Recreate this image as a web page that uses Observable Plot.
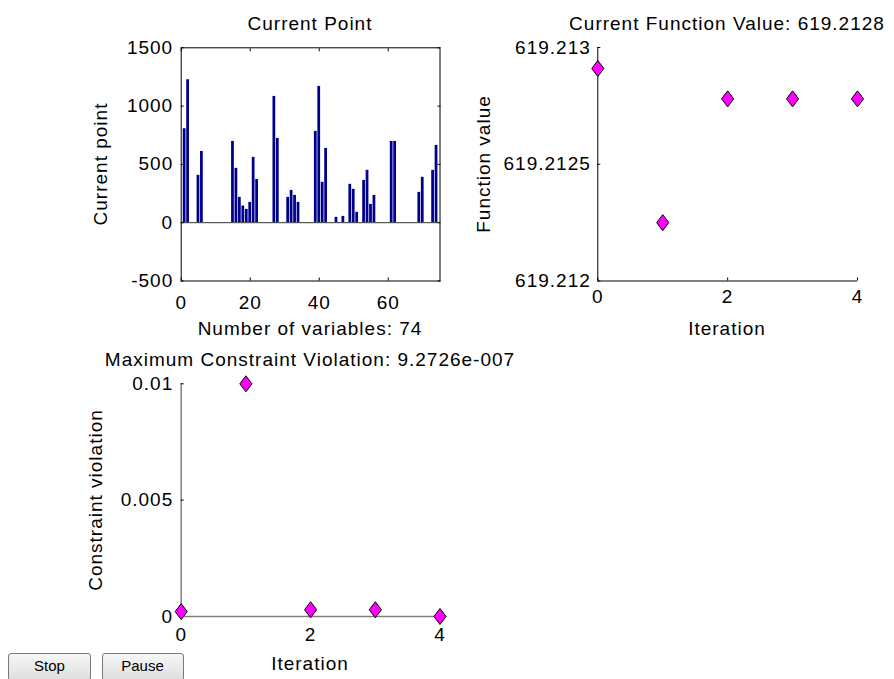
<!DOCTYPE html>
<html>
<head>
<meta charset="utf-8">
<script src="https://cdn.jsdelivr.net/npm/d3@7"></script>
<script src="https://cdn.jsdelivr.net/npm/@observablehq/plot@0.6"></script>
<style>
  body { margin: 0; background: #fff; }
  #fig { position: relative; width: 894px; height: 679px; overflow: hidden; background: #fff;
         font-family: "Liberation Sans", Arial, sans-serif; }
  #fig svg { position: absolute; left: 0; top: 0; }
  .t { position: absolute; font-size: 19px; line-height: 19px; letter-spacing: 1px; white-space: nowrap; color: #000; }
  .btn { position: absolute; box-sizing: border-box; border: 1px solid #7a7a7a; border-radius: 3px;
         background: linear-gradient(#f7f7f7, #dedede); font-size: 15px; line-height: 23px; text-align: center; color: #000; }
</style>
</head>
<body>
<div id="fig"></div>
<script>
// ---------- data ----------
// Current point: value of each of the 74 variables (variable index = position + 1)
const barValues = [806,1226,0,0,406,611,0,0,0,0,0,0,0,0,697,466,217,143,114,174,560,371,0,0,0,0,1083,723,0,0,
                   217,277,234,174,0,0,0,0,783,1169,346,637,0,0,46,0,54,0,329,286,89,0,363,449,157,234,0,0,0,0,
                   697,697,0,0,0,0,0,0,260,389,0,0,449,663];
const barXDomain = [0, 75];
const barXTicks = [0, 20, 40, 60];
const barYDomain = [-500, 1500];
const barYTicks = [-500, 0, 500, 1000, 1500];

// Function value per iteration
const iterations = [0, 1, 2, 3, 4];
const fvalValues = [619.21291, 619.21225, 619.21278, 619.21278, 619.21278];
const iterDomain = [0, 4];
const iterTicks = [0, 2, 4];
const fvalDomain = [619.212, 619.213];
const fvalTicks = [619.212, 619.2125, 619.213];
const fvalTickLabels = ["619.212", "619.2125", "619.213"];

// Constraint violation per iteration
const cvValues = [0.00021, 0.01, 0.00029, 0.00029, 9.2726e-7];
const cvDomain = [0, 0.01];
const cvTicks = [0, 0.005, 0.01];
const cvTickLabels = ["0", "0.005", "0.01"];

// ---------- layout ----------
const W = 894, H = 679;
const fig = document.getElementById("fig");
const baseStyle = {
  background: "none", overflow: "visible", color: "#000",
  fontFamily: '"Liberation Sans", Arial, sans-serif', fontSize: "19px", letterSpacing: "1px"
};
const plain = d => String(d);

const diamond = {
  draw(ctx, size) {
    const r = Math.sqrt(size / Math.PI), w = r * 0.76;
    ctx.moveTo(0, -r); ctx.lineTo(w, 0); ctx.lineTo(0, r); ctx.lineTo(-w, 0); ctx.closePath();
  }
};

// Current Point (bar chart)
const bar = Plot.plot({
  width: W, height: H,
  marginLeft: 180.7, marginRight: W - 439.5, marginTop: 47.3, marginBottom: H - 280.5,
  style: baseStyle,
  x: {domain: barXDomain},
  y: {domain: barYDomain},
  marks: [
    Plot.rect(barValues, {x1: (d, i) => i + 1 - 0.4, x2: (d, i) => i + 1 + 0.4, y1: 0, y2: d => d, fill: "#00008f"}),
    Plot.ruleY([0], {stroke: "#333"}),
    Plot.frame({stroke: "#000"}),
    Plot.axisX({ticks: barXTicks, anchor: "bottom", tickSize: -3, tickPadding: 17, tickFormat: plain, label: null}),
    Plot.axisX({ticks: barXTicks, anchor: "top", tickSize: -3, tickFormat: () => "", label: null}),
    Plot.axisY({ticks: barYTicks, anchor: "left", tickSize: -3, tickPadding: 11, tickFormat: plain, label: null}),
    Plot.axisY({ticks: barYTicks, anchor: "right", tickSize: -3, tickFormat: () => "", label: null})
  ]
});
fig.appendChild(bar);

// Current Function Value
const fval = Plot.plot({
  width: W, height: H,
  marginLeft: 597.3, marginRight: W - 857, marginTop: 47, marginBottom: H - 280.5,
  style: baseStyle,
  x: {domain: iterDomain},
  y: {domain: fvalDomain},
  marks: [
    Plot.ruleX([iterDomain[0]], {stroke: "#000"}),
    Plot.ruleY([fvalDomain[0]], {stroke: "#000"}),
    Plot.axisX({ticks: iterTicks, anchor: "bottom", tickSize: -3, tickPadding: 11.5, tickFormat: plain, label: null}),
    Plot.axisY({ticks: fvalTicks, anchor: "left", tickSize: -3, tickPadding: 10,
                tickFormat: d => fvalTickLabels[fvalTicks.indexOf(d)], label: null}),
    Plot.dot(iterations, {x: d => d, y: (d, i) => fvalValues[i], symbol: diamond, r: 8,
                          fill: "#ff00ff", stroke: "#000", strokeWidth: 1})
  ]
});
fig.appendChild(fval);

// Maximum Constraint Violation
const cv = Plot.plot({
  width: W, height: H,
  marginLeft: 180.7, marginRight: W - 439.5, marginTop: 383.3, marginBottom: H - 616,
  style: baseStyle,
  x: {domain: iterDomain},
  y: {domain: cvDomain},
  marks: [
    Plot.ruleX([iterDomain[0]], {stroke: "#808080", strokeWidth: 1.5}),
    Plot.ruleY([cvDomain[0]], {stroke: "#808080", strokeWidth: 1.5}),
    Plot.axisX({ticks: iterTicks, anchor: "bottom", tickSize: -3, tickPadding: 13.7, tickFormat: plain, label: null}),
    Plot.axisY({ticks: cvTicks, anchor: "left", tickSize: -3, tickPadding: 11,
                tickFormat: d => cvTickLabels[cvTicks.indexOf(d)], label: null}),
    Plot.dot(iterations, {x: d => d, y: (d, i) => cvValues[i], symbol: diamond, r: 8,
                          fill: "#ff00ff", stroke: "#000", strokeWidth: 1})
  ]
});
fig.appendChild(cv);

// ---------- text (titles, axis labels) ----------
function label(txt, cx, baseline) {
  const d = document.createElement("div");
  d.className = "t"; d.textContent = txt;
  d.style.left = cx + "px"; d.style.top = (baseline - 16.1) + "px";
  d.style.transform = "translateX(-50%)";
  fig.appendChild(d);
}
function vlabel(txt, baselineX, cy) {
  const d = document.createElement("div");
  d.className = "t"; d.textContent = txt;
  d.style.left = (baselineX - 6.6) + "px"; d.style.top = cy + "px";
  d.style.transform = "translate(-50%,-50%) rotate(-90deg)";
  fig.appendChild(d);
}
label("Current Point", 310, 30);
label("Number of variables: " + barValues.length, 310, 335);
vlabel("Current point", 106.7, 164);

label("Current Function Value: 619.2128", 727, 30);
label("Iteration", 727, 335);
vlabel("Function value", 490, 164);

label("Maximum Constraint Violation: 9.2726e-007", 310, 366);
label("Iteration", 310, 670.5);
vlabel("Constraint violation", 101.7, 500);

// buttons
function button(txt, left, width) {
  const b = document.createElement("div");
  b.className = "btn"; b.textContent = txt;
  b.style.left = left + "px"; b.style.top = "652.5px";
  b.style.width = width + "px"; b.style.height = "28px";
  fig.appendChild(b);
}
button("Stop", 8, 83);
button("Pause", 101.5, 82);
</script>
</body>
</html>
